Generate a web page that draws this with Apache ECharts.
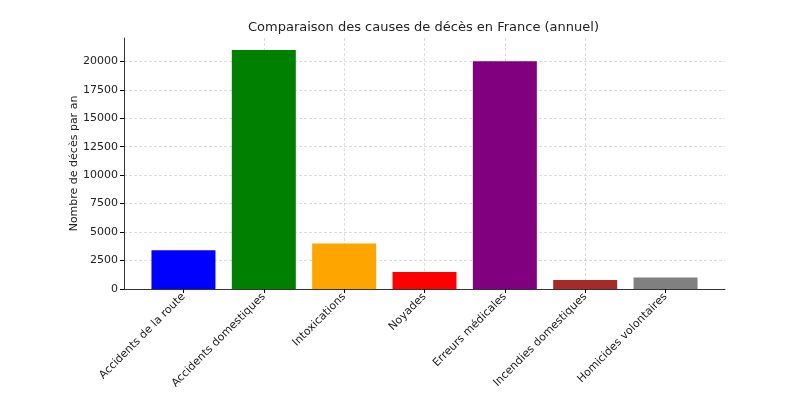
<!DOCTYPE html>
<html>
<head>
<meta charset="utf-8">
<script src="https://cdn.jsdelivr.net/npm/echarts@6/dist/echarts.min.js"></script>
<style>
  html, body { margin: 0; padding: 0; background: #fff; }
  #main { width: 800px; height: 400px; }
</style>
</head>
<body>
<div id="main"></div>
<script>
// données
var categories = ['Accidents de la route', 'Accidents domestiques', 'Intoxications', 'Noyades',
                  'Erreurs médicales', 'Incendies domestiques', 'Homicides volontaires'];
var deces = [3400, 21000, 4000, 1500, 20000, 800, 1000];
var couleurs = ['blue', 'green', 'orange', 'red', 'purple', 'brown', 'gray'];
var positions = [0, 1, 2, 3, 4, 5, 6];

var myChart = echarts.init(document.getElementById('main'));

var font = 'DejaVu Sans';
var grille = { show: true, showMinLine: false, showMaxLine: false,
               lineStyle: { type: [3, 2], color: '#d4d4d4', width: 0.8 } };

var option = {
    animation: false,
    title: {
        text: 'Comparaison des causes de décès en France (annuel)',
        left: 243, top: 16,
        textStyle: { fontFamily: font, fontSize: 13, fontWeight: 'normal', color: '#222' }
    },
    grid: { left: 124, right: 75, top: 38, bottom: 111 },
    xAxis: {
        type: 'value',
        min: -0.74, max: 6.74,
        axisLine: { onZero: false, lineStyle: { color: '#000', width: 0.8 } },
        axisTick: { show: true, length: 4, customValues: positions, lineStyle: { color: '#000' } },
        axisLabel: {
            customValues: positions,
            rotate: 45, margin: 6,
            fontFamily: font, fontSize: 11, color: '#222',
            formatter: function (v) { return categories[Math.round(v)]; }
        },
        splitLine: grille
    },
    yAxis: {
        type: 'value',
        min: 0, max: 22050, interval: 2500,
        name: 'Nombre de décès par an',
        nameLocation: 'middle', nameGap: 44, nameMoveOverlap: false,
        nameTextStyle: { fontFamily: font, fontSize: 11, color: '#222' },
        axisLine: { show: true, onZero: false, lineStyle: { color: '#000', width: 0.8 } },
        axisTick: { show: true, length: 4, lineStyle: { color: '#000' } },
        axisLabel: {
            fontFamily: font, fontSize: 11, color: '#222', margin: 6, showMaxLabel: false,
            formatter: function (v) { return String(v); }
        },
        splitLine: grille
    },
    series: [{
        type: 'bar',
        barWidth: 64,
        data: deces.map(function (v, i) {
            return { value: [positions[i], v], itemStyle: { color: couleurs[i] } };
        })
    }]
};

myChart.setOption(option);
</script>
</body>
</html>
